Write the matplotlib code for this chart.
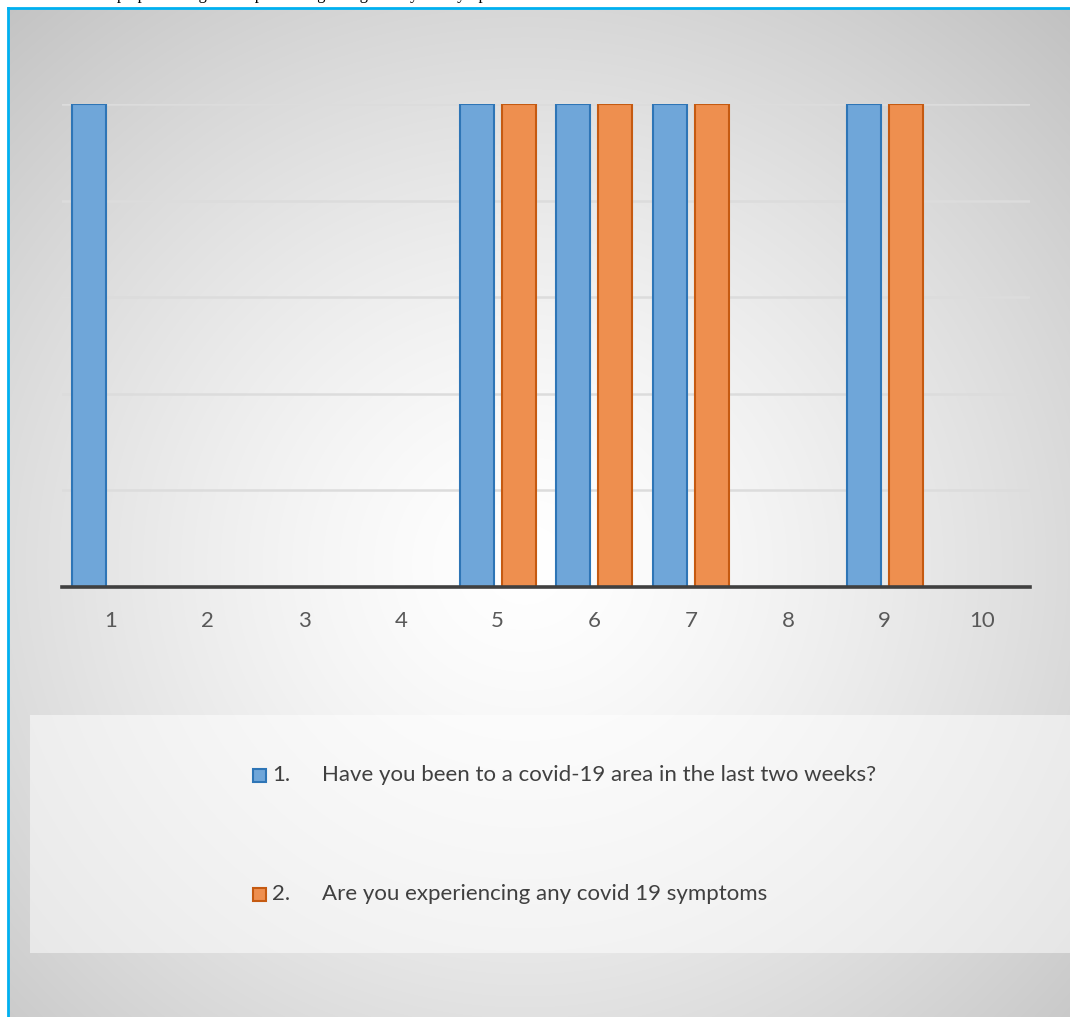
import numpy as np
import matplotlib.pyplot as plt
from matplotlib.patches import Rectangle

W, H = 1070, 1017

# data
categories = [1, 2, 3, 4, 5, 6, 7, 8, 9, 10]
q1_values = [1, 0, 0, 0, 1, 1, 1, 0, 1, 0]
q2_values = [0, 0, 0, 0, 1, 1, 1, 0, 1, 0]
series_nums = ["1.", "2."]
series_labels = ["Have you been to a covid-19 area in the last two weeks?",
                 "Are you experiencing any covid 19 symptoms"]
header_text = "Graph presenting the responses regarding history and symptoms"

BLUE_FILL, BLUE_EDGE = "#6fa6d9", "#2e75b6"
ORANGE_FILL, ORANGE_EDGE = "#ee8f4f", "#c55a11"
FONT = "Lato"
FS = 16

fig = plt.figure(figsize=(W / 100, H / 100), dpi=100)
fig.patch.set_facecolor("white")

# background: radial grey gradient of the chart area
bg = fig.add_axes([0, 0, 1, 1])
bg.set_xlim(0, W)
bg.set_ylim(H, 0)
bg.axis("off")
yy, xx = np.mgrid[0:H, 0:W]
d = np.sqrt((xx - 520.0) ** 2 + ((yy - 560.0) * 1.05) ** 2) / 800.0
shade = 1 - 0.24 * np.clip(d, 0, 1.2) ** 1.4
img = np.dstack([shade, shade, shade])
bg.imshow(img, extent=(9, W, H, 9), aspect="auto", zorder=0)
bg.plot([8, 8], [8, H], color="#00b0f0", lw=2, zorder=3)
bg.plot([8, W], [8, 8], color="#00b0f0", lw=2, zorder=3)
# line of the surrounding document, cut off by the top edge as in the source
bg.text(92, -1, header_text, fontsize=12, family="Liberation Serif",
        va="baseline", ha="left", color="black")

# legend panel
bg.add_patch(Rectangle((30, 715), W - 30, 238, facecolor="white",
                       alpha=0.5, edgecolor="none", zorder=1))
for i, (num, lab, fc, ec) in enumerate(zip(series_nums, series_labels,
                                           [BLUE_FILL, ORANGE_FILL],
                                           [BLUE_EDGE, ORANGE_EDGE])):
    yc = 775 + i * 119
    bg.add_patch(Rectangle((253, yc - 6.5), 13, 13, facecolor=fc,
                           edgecolor=ec, lw=1.5, zorder=2))
    bg.text(272, yc, num, fontsize=FS, family=FONT, color="#404040",
            va="center", ha="left", zorder=2)
    bg.text(322, yc, lab, fontsize=FS, family=FONT, color="#404040",
            va="center", ha="left", zorder=2)

# main chart
ax = fig.add_axes([62 / W, (H - 587) / H, (1030 - 62) / W, (587 - 104) / H])
ax.patch.set_alpha(0)
x = np.arange(len(categories))
width = 0.35
off = 0.217
ax.bar(x - off, q1_values, width, color=BLUE_FILL, edgecolor=BLUE_EDGE,
       lw=1.5, zorder=3)
ax.bar(x + off, q2_values, width, color=ORANGE_FILL, edgecolor=ORANGE_EDGE,
       lw=1.5, zorder=3)
ax.set_xlim(-0.5, len(categories) - 0.5)
ax.set_ylim(0, 1)
ax.set_yticks(np.arange(0, 1.01, 0.2))
ax.yaxis.grid(True, color="#dcdcdc", lw=1.8, zorder=1)
ax.tick_params(axis="y", length=0, labelleft=False)
ax.set_xticks(x)
ax.set_xticklabels([str(c) for c in categories], fontsize=FS, family=FONT,
                   color="#595959")
ax.tick_params(axis="x", length=0, pad=17)
for s in ["top", "left", "right"]:
    ax.spines[s].set_visible(False)
ax.spines["bottom"].set_color("#404040")
ax.spines["bottom"].set_linewidth(2.6)
ax.spines["bottom"].set_zorder(4)

fig.savefig("out.png", dpi=100)
